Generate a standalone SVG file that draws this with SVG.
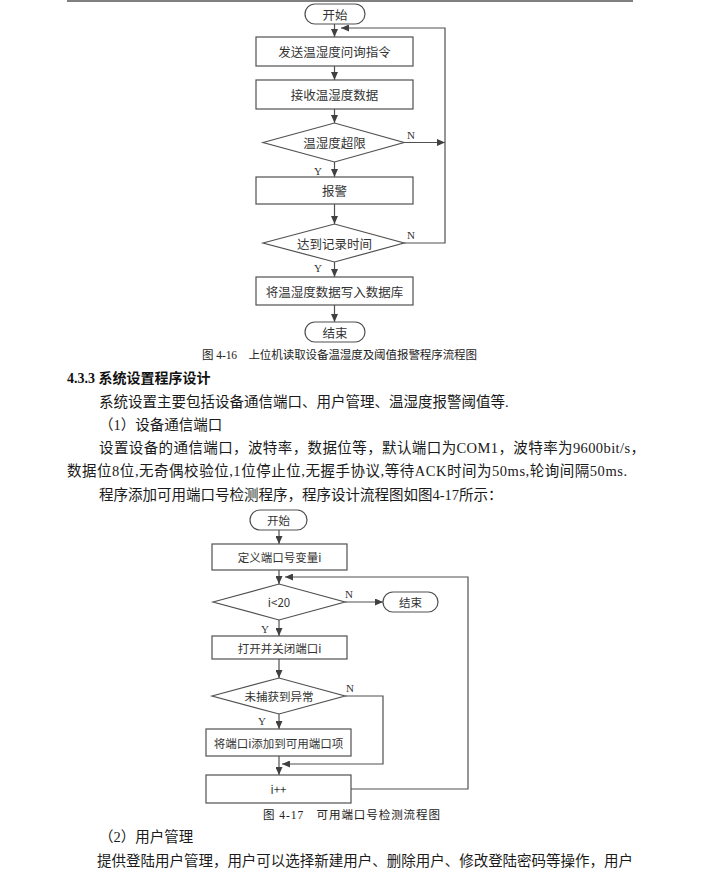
<svg xmlns="http://www.w3.org/2000/svg" width="718" height="880" viewBox="0 0 718 880">
<style>
.bg{fill:#ffffff}
.shape{fill:#ffffff;stroke:#505050;stroke-width:1.2}
.line{fill:none;stroke:#505050;stroke-width:1.2}
.t1{font-family:"Noto Sans CJK SC","Liberation Sans",sans-serif;font-size:12.5px;fill:#333333;text-anchor:middle;dominant-baseline:central}
.t2{font-family:"Noto Sans CJK SC","Liberation Sans",sans-serif;font-size:11.5px;fill:#333333;text-anchor:middle;dominant-baseline:central}
.yn{font-family:"Liberation Serif",serif;font-size:11px;fill:#333333;text-anchor:middle;dominant-baseline:central}
.cap{font-family:"Liberation Serif","Noto Sans CJK SC",serif;font-size:11.5px;fill:#222222}
.body{font-family:"Liberation Serif","Noto Sans CJK SC",serif;font-size:14.5px;fill:#1a1a1a}
.head{font-family:"Liberation Serif","Noto Sans CJK SC",serif;font-size:14px;font-weight:bold;fill:#111111}
</style>
<defs>
<marker id="arr" markerUnits="userSpaceOnUse" markerWidth="9" markerHeight="7" refX="8" refY="3.5" orient="auto">
<path d="M0,0 L8,3.5 L0,7 z" fill="#404040"/>
</marker>
</defs>
<rect class="bg" x="0" y="0" width="718" height="880"/>
<line x1="67" y1="1" x2="633" y2="1" stroke="#808080" stroke-width="2"/>

<!-- Flowchart 4-16 -->
<g id="connectors1">
<line class="line" x1="334.5" y1="24" x2="334.5" y2="37" marker-end="url(#arr)"/>
<line class="line" x1="334.5" y1="66" x2="334.5" y2="80" marker-end="url(#arr)"/>
<line class="line" x1="334.5" y1="109" x2="334.5" y2="123" marker-end="url(#arr)"/>
<line class="line" x1="404" y1="142.5" x2="445" y2="142.5" marker-end="url(#arr)"/>
<line class="line" x1="334.5" y1="162" x2="334.5" y2="177" marker-end="url(#arr)"/>
<line class="line" x1="334.5" y1="204" x2="334.5" y2="224" marker-end="url(#arr)"/>
<polyline class="line" points="404,243 445,243 445,28 341,28" marker-end="url(#arr)"/>
<line class="line" x1="334.5" y1="262" x2="334.5" y2="277" marker-end="url(#arr)"/>
<line class="line" x1="334.5" y1="305" x2="334.5" y2="322" marker-end="url(#arr)"/>
<text class="yn" x="411" y="135">N</text>
<text class="yn" x="318" y="171">Y</text>
<text class="yn" x="411" y="235">N</text>
<text class="yn" x="318" y="268">Y</text>
</g>
<g id="start1"><rect class="shape" x="305" y="4" width="60" height="20" rx="10"/><text class="t1" x="335" y="14">开始</text></g>
<g id="send"><rect class="shape" x="256" y="37" width="157" height="29"/><text class="t1" x="334.5" y="51.5">发送温湿度问询指令</text></g>
<g id="recv"><rect class="shape" x="256" y="80" width="157" height="29"/><text class="t1" x="334.5" y="94.5">接收温湿度数据</text></g>
<g id="over"><polygon class="shape" points="263,142.5 334.5,123 404,142.5 334.5,162"/><text class="t1" x="334.5" y="142.5">温湿度超限</text></g>
<g id="alarm"><rect class="shape" x="256" y="177" width="157" height="27"/><text class="t1" x="334.5" y="190.5">报警</text></g>
<g id="rectime"><polygon class="shape" points="263,243 334.5,224 404,243 334.5,262"/><text class="t1" x="334.5" y="243">达到记录时间</text></g>
<g id="write"><rect class="shape" x="256" y="277" width="157" height="28"/><text class="t1" x="334.5" y="291">将温湿度数据写入数据库</text></g>
<g id="end1"><rect class="shape" x="305" y="322" width="60" height="20" rx="10"/><text class="t1" x="335" y="332">结束</text></g>
<text class="cap" x="202" y="359" textLength="275" lengthAdjust="spacing">图 4-16　上位机读取设备温湿度及阈值报警程序流程图</text>

<!-- Body text -->
<text class="head" x="67" y="383">4.3.3 系统设置程序设计</text>
<text class="body" x="99" y="407">系统设置主要包括设备通信端口、用户管理、温湿度报警阈值等.</text>
<text class="body" x="99" y="430">（1）设备通信端口</text>
<text class="body" x="99" y="453" textLength="546" lengthAdjust="spacing">设置设备的通信端口，波特率，数据位等，默认端口为COM1，波特率为9600bit/s，</text>
<text class="body" x="67" y="476" textLength="560" lengthAdjust="spacing">数据位8位,无奇偶校验位,1位停止位,无握手协议,等待ACK时间为50ms,轮询间隔50ms.</text>
<text class="body" x="99" y="500">程序添加可用端口号检测程序，程序设计流程图如图4-17所示：</text>

<!-- Flowchart 4-17 -->
<g id="connectors2">
<line class="line" x1="279" y1="530" x2="279" y2="544" marker-end="url(#arr)"/>
<line class="line" x1="279" y1="570" x2="279" y2="584" marker-end="url(#arr)"/>
<polyline class="line" points="351,789 468,789 468,577 285,577" marker-end="url(#arr)"/>
<line class="line" x1="345" y1="602" x2="383" y2="602" marker-end="url(#arr)"/>
<line class="line" x1="279" y1="620" x2="279" y2="636" marker-end="url(#arr)"/>
<line class="line" x1="279" y1="659" x2="279" y2="678" marker-end="url(#arr)"/>
<polyline class="line" points="345,696 383,696 383,764 282,764" marker-end="url(#arr)"/>
<line class="line" x1="279" y1="714" x2="279" y2="729" marker-end="url(#arr)"/>
<line class="line" x1="279" y1="756" x2="279" y2="775" marker-end="url(#arr)"/>
<text class="yn" x="349" y="594">N</text>
<text class="yn" x="265" y="629">Y</text>
<text class="yn" x="350" y="688">N</text>
<text class="yn" x="262" y="721">Y</text>
</g>
<g id="start2"><rect class="shape" x="250" y="510" width="57" height="20" rx="10"/><text class="t2" x="278.5" y="520">开始</text></g>
<g id="definei"><rect class="shape" x="212" y="544" width="135" height="26"/><text class="t2" x="279.5" y="557">定义端口号变量i</text></g>
<g id="cond"><polygon class="shape" points="213,602 279,584 345,602 279,620"/><text class="t2" x="279" y="602">i&lt;20</text></g>
<g id="end2"><rect class="shape" x="383" y="592" width="55" height="20" rx="10"/><text class="t2" x="410.5" y="602">结束</text></g>
<g id="openclose"><rect class="shape" x="212" y="636" width="135" height="23"/><text class="t2" x="279.5" y="647.5">打开并关闭端口i</text></g>
<g id="noexc"><polygon class="shape" points="212,696 279,678 345,696 279,714"/><text class="t2" x="279" y="696">未捕获到异常</text></g>
<g id="addport"><rect class="shape" x="206" y="729" width="145" height="27"/><text class="t2" x="278.5" y="742.5">将端口i添加到可用端口项</text></g>
<g id="inc"><rect class="shape" x="206" y="775" width="145" height="28"/><text class="t2" x="278.5" y="789">i++</text></g>
<text class="cap" x="263" y="819" textLength="177" lengthAdjust="spacing">图 4-17　可用端口号检测流程图</text>

<text class="body" x="99" y="842">（2）用户管理</text>
<text class="body" x="97" y="866" textLength="536" lengthAdjust="spacing">提供登陆用户管理，用户可以选择新建用户、删除用户、修改登陆密码等操作，用户</text>
</svg>
